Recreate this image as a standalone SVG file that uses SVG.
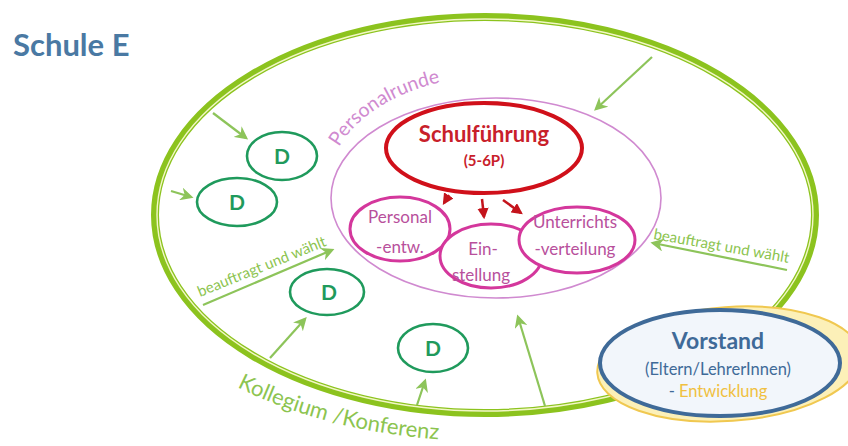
<svg xmlns="http://www.w3.org/2000/svg" width="848" height="446" viewBox="0 0 848 446">
  <style>
    .title { font-family: Lato, "Open Sans", sans-serif; font-weight: 700; font-size: 31px; fill: #4a79a3; }
    .lead { font-family: Lato, "Open Sans", sans-serif; font-weight: 700; fill: #c8202a; text-anchor: middle; }
    .task { font-family: Lato, "Open Sans", sans-serif; font-size: 17px; fill: #b8509c; text-anchor: middle; }
    .dlabel { font-family: Lato, "Open Sans", sans-serif; font-weight: 700; font-size: 21px; fill: #1f9a5c; text-anchor: middle; }
    .green-text { font-family: Lato, "Open Sans", sans-serif; fill: #8cc44f; }
    .board { font-family: Lato, "Open Sans", sans-serif; text-anchor: middle; fill: #3f6a98; }
    .d-ellipse { fill: #ffffff; stroke: #1f9a5c; stroke-width: 2.6; }
    .task-ellipse { fill: #ffffff; stroke: #d4379c; stroke-width: 3; }
    .g-arrow { stroke: #8dc45a; stroke-width: 2.2; fill: none; marker-end: url(#arrow-green); }
    .r-arrow { stroke: #c4141c; stroke-width: 2.5; fill: none; marker-end: url(#arrow-red); }
  </style>
  <defs>
    <marker id="arrow-green" viewBox="0 0 10 10" refX="8" refY="5" markerWidth="6" markerHeight="6" orient="auto">
      <path d="M0,0 L10,5 L0,10 L3,5 z" fill="#8dc45a"/>
    </marker>
    <marker id="arrow-red" viewBox="0 0 10 10" refX="8" refY="5" markerWidth="4.5" markerHeight="4.5" orient="auto">
      <path d="M0,0 L10,5 L0,10 z" fill="#c4141c"/>
    </marker>
    <!-- baselines for the curved labels -->
    <path id="collegium-path" d="M 237 387 A 383 227 0 0 0 868 215"/>
    <path id="round-path" d="M 339 147 A 165 112 0 0 1 620 118"/>
  </defs>

  <rect width="848" height="446" fill="#ffffff"/>

  <text class="title" x="13" y="56">Schule E</text>

  <!-- Kollegium / Konferenz: outer double line -->
  <g id="kollegium">
    <ellipse cx="485" cy="215" rx="330" ry="198" fill="none" stroke="#8cc31e" stroke-width="8"/>
    <ellipse cx="485" cy="215" rx="328" ry="196" fill="none" stroke="#f2f7c6" stroke-width="1.4"/>
    <text class="green-text" font-size="22"><textPath href="#collegium-path">Kollegium /Konferenz</textPath></text>
  </g>

  <!-- Personalrunde -->
  <g id="personalrunde">
    <ellipse cx="496" cy="198" rx="165" ry="100" fill="none" stroke="#d08ad0" stroke-width="1.6"/>
    <text font-family="Lato, 'Open Sans', sans-serif" font-size="19.5" fill="#d08ad0"><textPath href="#round-path">Personalrunde</textPath></text>
  </g>

  <g id="schulfuehrung">
    <ellipse cx="484" cy="148" rx="98" ry="45" fill="#ffffff" stroke="#d0101a" stroke-width="4"/>
    <text class="lead" x="484" y="142" font-size="22">Schulführung</text>
    <text class="lead" x="484" y="166" font-size="15">(5-6P)</text>
  </g>

  <g id="personalentwicklung">
    <ellipse class="task-ellipse" cx="400" cy="229" rx="50" ry="32"/>
    <text class="task" x="400" y="223">Personal</text>
    <text class="task" x="400" y="253">-entw.</text>
  </g>

  <g id="einstellung">
    <ellipse class="task-ellipse" cx="491" cy="256" rx="51" ry="32"/>
    <text class="task" x="483" y="255">Ein-</text>
    <text class="task" x="481" y="281">stellung</text>
  </g>

  <g id="unterrichtsverteilung">
    <ellipse class="task-ellipse" cx="577" cy="240" rx="58" ry="33"/>
    <text class="task" x="575" y="228">Unterrichts</text>
    <text class="task" x="575" y="255">-verteilung</text>
  </g>

  <g id="d1">
    <ellipse class="d-ellipse" cx="282" cy="156" rx="35" ry="24"/>
    <text class="dlabel" x="282" y="164">D</text>
  </g>
  <g id="d2">
    <ellipse class="d-ellipse" cx="237" cy="202" rx="40" ry="24"/>
    <text class="dlabel" x="237" y="210">D</text>
  </g>
  <g id="d3">
    <ellipse class="d-ellipse" cx="327" cy="292" rx="37" ry="23"/>
    <text class="dlabel" x="329" y="300">D</text>
  </g>
  <g id="d4">
    <ellipse class="d-ellipse" cx="433" cy="348" rx="35" ry="24"/>
    <text class="dlabel" x="433" y="356">D</text>
  </g>

  <g id="vorstand">
    <ellipse cx="729" cy="364" rx="132" ry="57" transform="rotate(-4 729 364)" fill="#fcf0b8" stroke="#f0c850" stroke-width="2"/>
    <ellipse cx="720" cy="363" rx="120" ry="53" fill="#f2f6fb" stroke="#3f6a98" stroke-width="4"/>
    <text class="board" x="718" y="349" font-size="23" font-weight="700">Vorstand</text>
    <text class="board" x="718" y="375" font-size="16.5">(Eltern/LehrerInnen)</text>
    <text class="board" x="718" y="397" font-size="16.5">- <tspan fill="#f0c040">Entwicklung</tspan></text>
  </g>

  <!-- connectors -->
  <g id="connectors">
    <line class="r-arrow" x1="449" y1="195" x2="444" y2="203"/>
    <line class="r-arrow" x1="482" y1="199" x2="484" y2="217"/>
    <line class="r-arrow" x1="503" y1="200" x2="521" y2="213"/>

    <line class="g-arrow" x1="213" y1="113" x2="246" y2="138"/>
    <line class="g-arrow" x1="171" y1="191" x2="191" y2="197"/>
    <line class="g-arrow" x1="652" y1="57" x2="596" y2="109"/>
    <line class="g-arrow" x1="270" y1="358" x2="305" y2="319"/>
    <line class="g-arrow" x1="417" y1="405" x2="425" y2="381"/>
    <line class="g-arrow" x1="545" y1="406" x2="518" y2="317"/>

    <line class="g-arrow" x1="203" y1="305" x2="332" y2="250"/>
    <text class="green-text" font-size="15" transform="translate(200 297) rotate(-22)">beauftragt und wählt</text>

    <line class="g-arrow" x1="787" y1="270" x2="653" y2="243"/>
    <text class="green-text" font-size="15" transform="translate(653 239) rotate(10)">beauftragt und wählt</text>
  </g>
</svg>
